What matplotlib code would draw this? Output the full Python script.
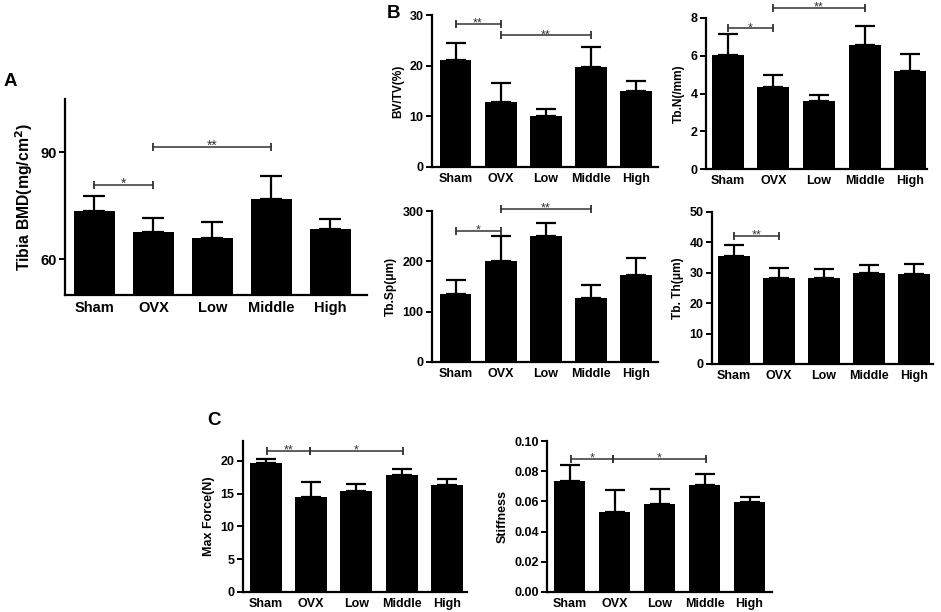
import matplotlib.pyplot as plt
import numpy as np

plt.rcParams['font.family'] = ['Liberation Sans', 'DejaVu Sans']
plt.rcParams['font.weight'] = 'bold'

groups = ['Sham', 'OVX', 'Low', 'Middle', 'High']

# means and upper error (SD)
bmd = [73.7, 67.7, 66.1, 76.9, 68.6]
bmd_err = [4.1, 4.0, 4.5, 6.5, 2.6]
bvtv = [21.1, 12.9, 10.1, 19.7, 15.0]
bvtv_err = [3.4, 3.7, 1.3, 4.0, 2.0]
tbn = [6.03, 4.36, 3.60, 6.57, 5.19]
tbn_err = [1.11, 0.64, 0.34, 1.03, 0.91]
tbsp = [136, 201, 251, 127, 172]
tbsp_err = [27, 49, 25, 25, 34]
tbth = [35.6, 28.4, 28.4, 30.0, 29.6]
tbth_err = [3.4, 3.1, 2.7, 2.6, 3.4]
force = [19.6, 14.5, 15.4, 17.8, 16.3]
force_err = [0.7, 2.3, 1.0, 1.0, 0.9]
stiff = [0.0732, 0.0531, 0.0586, 0.0709, 0.0595]
stiff_err = [0.0112, 0.0143, 0.0097, 0.0071, 0.0031]

W, H = 941, 612


def make_ax(fig, l, r, t, b):
    return fig.add_axes([l / W, 1 - b / H, (r - l) / W, (b - t) / H])


def bar_panel(ax, vals, errs, ylabel, ylim, yticks, xlim, tfs=9, lfs=8.6,
              capsize=7, yfmt=None):
    x = np.arange(len(groups))
    ax.bar(x, vals, width=0.7, color='black', zorder=2)
    ax.errorbar(x, vals, yerr=[np.zeros(len(errs)), errs], fmt='none',
                ecolor='black', elinewidth=1.6, capsize=capsize,
                capthick=1.6, zorder=1)
    ax.set_xlim(*xlim)
    ax.set_ylim(*ylim)
    ax.set_yticks(yticks)
    if yfmt:
        ax.set_yticklabels([yfmt.format(v) for v in yticks])
    ax.set_xticks(x)
    ax.set_xticklabels(groups)
    for s in ['top', 'right']:
        ax.spines[s].set_visible(False)
    for s in ['left', 'bottom']:
        ax.spines[s].set_linewidth(1.6)
    ax.tick_params(axis='x', length=0, labelsize=tfs, pad=4)
    ax.tick_params(axis='y', length=4, width=1.4, labelsize=tfs, pad=2)
    for lab in ax.get_xticklabels() + ax.get_yticklabels():
        lab.set_fontweight('bold')
    ax.set_ylabel(ylabel, fontsize=lfs, fontweight='bold', labelpad=4)


def bracket(ax, x1, x2, y, text, fs=9, off=0.0):
    ax.plot([x1 + off, x2 - off], [y, y], color='#333333', lw=1.1,
            marker='|', markersize=6, mew=1.3, clip_on=False, zorder=3)
    ax.annotate(text, xy=((x1 + x2) / 2, y), xytext=(0, -2),
                textcoords='offset points', ha='center', va='baseline',
                fontsize=fs, color='#333333', fontweight='normal',
                annotation_clip=False)


fig = plt.figure(figsize=(W / 100, H / 100), dpi=100)

# Panel A
axA = make_ax(fig, 65, 367, 99, 295)
bar_panel(axA, bmd, bmd_err, 'Tibia BMD(mg/cm$\\mathbf{^2}$)', (50, 105),
          [60, 90], (-0.5, 4.62), tfs=10.5, lfs=11.3, capsize=8)
bracket(axA, 0, 1, 80.8, '*', fs=10)
bracket(axA, 1, 3, 91.6, '**', fs=10)
fig.text(4 / W, 1 - 86 / H, 'A', fontsize=13.5, fontweight='bold',
         va='baseline')

# Panel B
axB1 = make_ax(fig, 432, 658, 15, 167)
bar_panel(axB1, bvtv, bvtv_err, 'BV/TV(%)', (0, 30), [0, 10, 20, 30],
          (-0.52, 4.48))
bracket(axB1, 0, 1, 28.3, '**')
bracket(axB1, 1, 3, 26.0, '**')
fig.text(387 / W, 1 - 18 / H, 'B', fontsize=13.5, fontweight='bold',
         va='baseline')

axB2 = make_ax(fig, 706, 927, 18, 169)
bar_panel(axB2, tbn, tbn_err, 'Tb.N(/mm)', (0, 8), [0, 2, 4, 6, 8],
          (-0.48, 4.37))
bracket(axB2, 0, 1, 7.45, '*')
bracket(axB2, 1, 3, 8.54, '**')

axB3 = make_ax(fig, 432, 658, 211, 362)
bar_panel(axB3, tbsp, tbsp_err, 'Tb.Sp(μm)', (0, 300), [0, 100, 200, 300],
          (-0.52, 4.48))
bracket(axB3, 0, 1, 261, '*')
bracket(axB3, 1, 3, 304, '**')

axB4 = make_ax(fig, 712, 933, 212, 364)
bar_panel(axB4, tbth, tbth_err, 'Tb. Th(μm)', (0, 50), [0, 10, 20, 30, 40, 50],
          (-0.49, 4.42))
bracket(axB4, 0, 1, 42.1, '**')

# Panel C
axC1 = make_ax(fig, 243, 467, 441, 592)
bar_panel(axC1, force, force_err, 'Max Force(N)', (0, 23), [0, 5, 10, 15, 20],
          (-0.5, 4.44), lfs=9)
bracket(axC1, 0, 1, 21.5, '**', off=0.03)
bracket(axC1, 1, 3, 21.5, '*', off=-0.03)
fig.text(207 / W, 1 - 425 / H, 'C', fontsize=13.5, fontweight='bold',
         va='baseline')

axC2 = make_ax(fig, 547, 772, 441, 592)
bar_panel(axC2, stiff, stiff_err, 'Stiffness', (0, 0.1),
          [0, 0.02, 0.04, 0.06, 0.08, 0.10], (-0.5, 4.5), lfs=9,
          yfmt='{:.2f}')
bracket(axC2, 0, 1, 0.0883, '*', off=0.03)
bracket(axC2, 1, 3, 0.0883, '*', off=-0.03)

fig.savefig('out.png', dpi=100)
